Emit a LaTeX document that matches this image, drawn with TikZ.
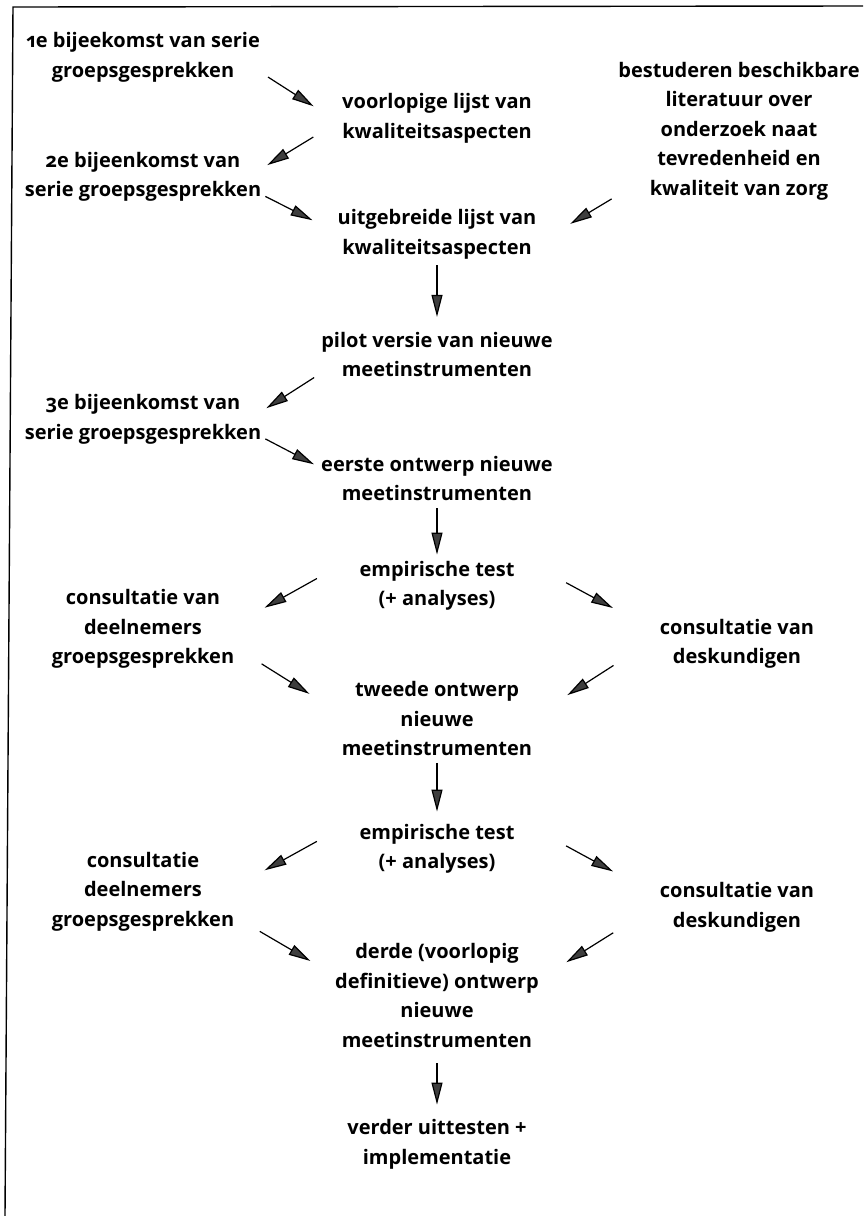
\documentclass[tikz,border=0pt]{standalone}
\usepackage{fontspec}
\setmainfont{Open Sans}[Numbers=OldStyle]
\usetikzlibrary{arrows.meta}
\definecolor{headgray}{RGB}{62, 62, 62}

\tikzset{
	txt/.style={font=\bfseries\fontsize{20}{29.5}\selectfont, align=center, inner sep=4pt},
	arr/.style={line width=1.2pt, -{Triangle[length=22pt, width=11pt, fill=headgray]}},
}

\begin{document}
\begin{tikzpicture}[x=1pt, y=-1pt]
	\useasboundingbox (0,0) rectangle (863,1216);
	\draw[line width=1.4pt] (863,6) -- (13,7) -- (5,1216);

	% linker kolom
	\node[txt] (g1) at (143,57.5) {1e bijeekomst van serie\\groepsgesprekken};
	\node[txt] (g2) at (143,177) {2e bijeenkomst van\\serie groepsgesprekken};
	\node[txt] (g3) at (143,419.5) {3e bijeenkomst van\\serie groepsgesprekken};
	\node[txt] (c1) at (143,629) {consultatie van\\deelnemers\\groepsgesprekken};
	\node[txt] (c2) at (143,891.5) {consultatie\\deelnemers\\groepsgesprekken};

	% middelste kolom
	\node[txt] (v1) at (437,118.5) {voorlopige lijst van\\kwaliteitsaspecten};
	\node[txt] (v2) at (437,234.5) {uitgebreide lijst van\\kwaliteitsaspecten};
	\node[txt] (p1) at (437,354.5) {pilot versie van nieuwe\\meetinstrumenten};
	\node[txt] (e1) at (437,478.5) {eerste ontwerp nieuwe\\meetinstrumenten};
	\node[txt] (t1) at (437,586) {empirische test\\(+ analyses)};
	\node[txt] (o2) at (437,718.5) {tweede ontwerp\\nieuwe\\meetinstrumenten};
	\node[txt] (t2) at (437,849) {empirische test\\(+ analyses)};
	\node[txt] (o3) at (437,995.5) {derde (voorlopig\\definitieve) ontwerp\\nieuwe\\meetinstrumenten};
	\node[txt] (f1) at (437,1144.5) {verder uittesten +\\implementatie};

	% rechter kolom
	\node[txt] (lit) at (739,131) {bestuderen beschikbare\\literatuur over\\onderzoek naat\\tevredenheid en\\kwaliteit van zorg};
	\node[txt] (d1) at (737,644) {consultatie van\\deskundigen};
	\node[txt] (d2) at (737,907.5) {consultatie van\\deskundigen};

	% pijlen
	\draw[arr, shorten <=4.7pt, shorten >=29pt] (g1.-8.6) -- (v1.182.1);
	\draw[arr, shorten <=29pt, shorten >=2.3pt] (v1.182.3) -- (g2.5.1);
	\draw[arr, shorten >=23.5pt] (g2.-9.3) -- (v2.178.9);
	\draw[arr, shorten <=3pt, shorten >=34.7pt] (lit.208.3) -- (v2.-4.5);
	\draw[arr, shorten <=2pt, shorten >=11pt] (v2.south) -- (p1.north);
	\draw[arr, shorten <=3.5pt, shorten >=1.2pt] (p1.190.4) -- (g3.5.1);
	\draw[arr, shorten >=3.4pt] (g3.-9.1) -- (e1.174.8);
	\draw[arr, shorten <=3pt, shorten >=2.5pt] (e1.south) -- (t1.north);
	\draw[arr, shorten <=44pt, shorten >=30pt] (t1.north west) -- (c1.4.8);
	\draw[arr, shorten <=54pt, shorten >=48.6pt] (t1.north east) -- (d1.171.4);
	\draw[arr, shorten <=27.4pt, shorten >=33.3pt] (c1.-12.9) -- (o2.176.2);
	\draw[arr, shorten <=50.2pt, shorten >=36.8pt] (d1.176.5) -- (o2.2.7);
	\draw[arr, shorten <=3pt, shorten >=8.5pt] (o2.south) -- (t2.north);
	\draw[arr, shorten <=44pt, shorten >=30pt] (t2.north west) -- (c2.4.8);
	\draw[arr, shorten <=54pt, shorten >=48.6pt] (t2.north east) -- (d2.171.4);
	\draw[arr, shorten <=24.8pt, shorten >=23.7pt] (c2.-16.4) -- (o3.168.3);
	\draw[arr, shorten <=50.2pt, shorten >=27.4pt] (d2.179) -- (o3.10.5);
	\draw[arr, shorten <=11.5pt, shorten >=11pt] (o3.south) -- (f1.north);
\end{tikzpicture}
\end{document}
